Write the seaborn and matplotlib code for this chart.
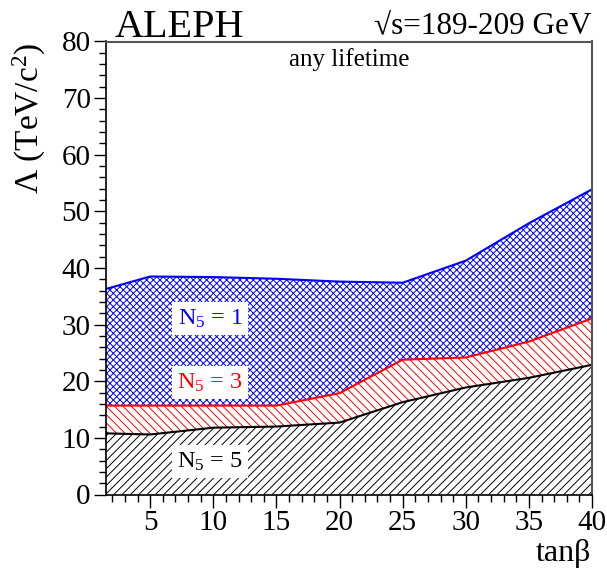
import numpy as np
import pandas as pd
import matplotlib
matplotlib.use("Agg")
import matplotlib.pyplot as plt
import seaborn as sns

# ---- data ----
tanb = [1.5, 5, 10, 15, 20, 25, 30, 35, 40]
lam_n5 = [10.8, 10.6, 11.8, 12.0, 12.7, 16.3, 18.9, 20.6, 22.9]
lam_n3 = [15.7, 15.7, 15.7, 15.7, 17.9, 23.8, 24.2, 27.0, 31.1]
lam_n1 = [36.3, 38.5, 38.4, 38.1, 37.6, 37.4, 41.3, 47.9, 53.9]
labels = ["N$_5$ = 1", "N$_5$ = 3", "N$_5$ = 5"]
colors = ["#0000ff", "#ff0000", "#000000"]
xticks = [5, 10, 15, 20, 25, 30, 35, 40]
yticks = [0, 10, 20, 30, 40, 50, 60, 70, 80]

sns.set_theme(style="ticks")
plt.rcParams["font.family"] = ["Liberation Serif", "DejaVu Serif"]
plt.rcParams["mathtext.fontset"] = "custom"
plt.rcParams["mathtext.rm"] = "Liberation Serif"
plt.rcParams["mathtext.it"] = "Liberation Serif:italic"
plt.rcParams["hatch.linewidth"] = 0.7
plt.rcParams["text.color"] = "black"

fig = plt.figure(figsize=(6.07, 5.72), dpi=100)
ax = fig.add_axes([106/607, 1-494.5/572, (592-106)/607, (494.5-41.5)/572])

df = pd.DataFrame({"tanb": tanb, "n5": lam_n5, "n3": lam_n3, "n1": lam_n1})

# hatched bands
ax.fill_between(df["tanb"], 0, df["n5"], facecolor="none", edgecolor=colors[2],
                hatch="////", linewidth=0)
ax.fill_between(df["tanb"], df["n5"], df["n3"], facecolor="none", edgecolor=colors[1],
                hatch="\\\\\\\\", linewidth=0)
ax.fill_between(df["tanb"], df["n3"], df["n1"], facecolor="none", edgecolor=colors[0],
                hatch="xxxxx", linewidth=0)

sns.lineplot(data=df, x="tanb", y="n5", color=colors[2], lw=1.5, ax=ax)
sns.lineplot(data=df, x="tanb", y="n3", color=colors[1], lw=1.5, ax=ax)
sns.lineplot(data=df, x="tanb", y="n1", color=colors[0], lw=1.5, ax=ax)

ax.set_xlim(1.5, 40)
ax.set_ylim(0, 80)
ax.set_xticks(xticks)
ax.set_yticks(yticks)
ax.set_xticks(np.arange(2, 41, 1), minor=True)
ax.set_yticks(np.arange(0, 81, 2), minor=True)
ax.tick_params(axis="both", which="major", direction="out", length=9, width=1,
               labelsize=21, pad=2, color="black", labelcolor="black")
ax.tick_params(axis="both", which="minor", direction="out", length=5, width=1, color="black")
ax.set_xlabel("")
ax.set_ylabel("")

for s in ["left", "bottom"]:
    ax.spines[s].set_color("black")
    ax.spines[s].set_linewidth(1.2)
for s in ["top", "right"]:
    ax.spines[s].set_visible(True)
    ax.spines[s].set_color("#555555")
    ax.spines[s].set_linewidth(1.5)

# band labels
lab_pos = [(9.75, 31.0), (9.75, 19.8), (9.75, 5.8)]
for lab, c, (xx, yy) in zip(labels, colors, lab_pos):
    ax.text(xx, yy, lab, color=c, fontsize=17.5, ha="center", va="center",
            bbox=dict(boxstyle="square,pad=0.22", facecolor="white", edgecolor="none"),
            zorder=5)

ax.text(0.5, 0.985, "any lifetime", transform=ax.transAxes, fontsize=18,
        ha="center", va="top")

fig.text(115/607, 1-37/572, "ALEPH", fontsize=29, ha="left", va="baseline")
fig.text(591/607, 1-33/572, "\u221as=189-209 GeV", fontsize=22.5, ha="right", va="baseline")
fig.text(29/607, 1-118/572, "\u039b (TeV/c$^2$)", fontsize=24, rotation=90,
         ha="center", va="center")
fig.text(591/607, 1-561/572, "tan\u03b2", fontsize=23, ha="right", va="baseline")

fig.savefig("out.png", dpi=100, facecolor="white")
